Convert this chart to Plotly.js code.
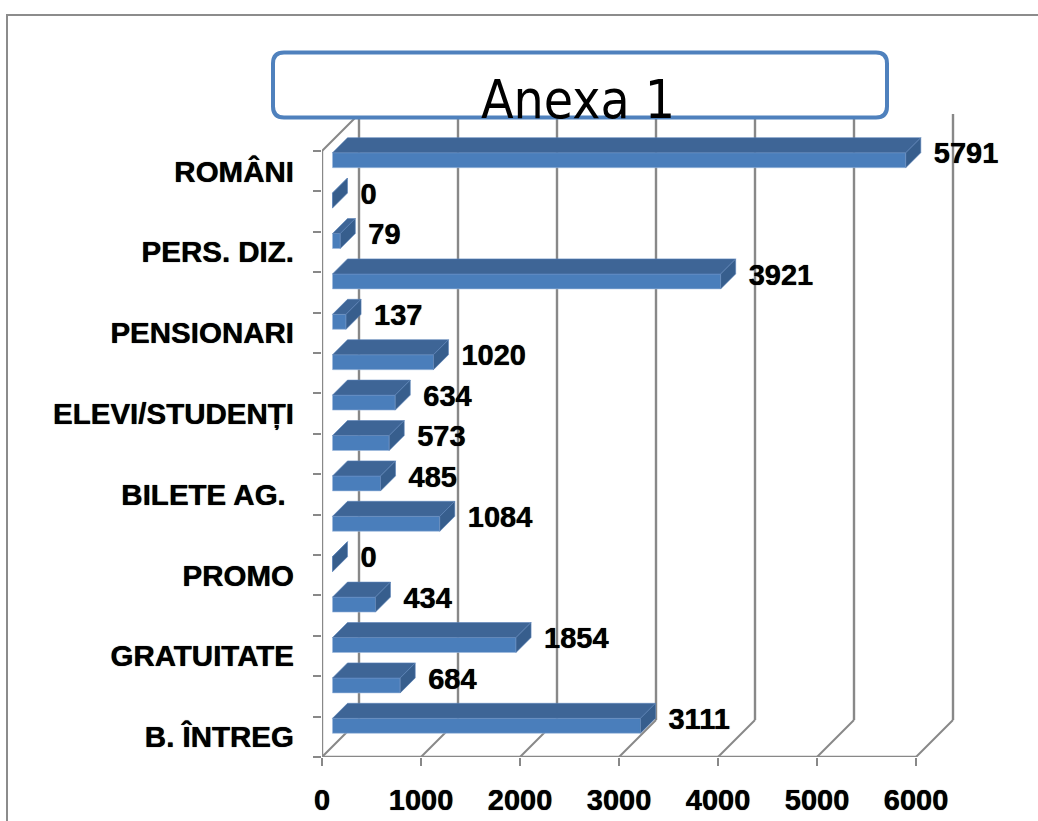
<!DOCTYPE html>
<html>
<head>
<meta charset="utf-8">
<script src="https://cdn.plot.ly/plotly-3.0.1.min.js"></script>
<style>html,body{margin:0;padding:0;background:#fff;}#chart{width:1038px;height:821px;}</style>
</head>
<body>
<div id="chart"></div>
<script>
// ---- data (bottom to top) ----
const categories = ['B. ÎNTREG', '', 'GRATUITATE', '', 'PROMO', '', 'BILETE AG.\u00a0', '', 'ELEVI/STUDENȚI', '', 'PENSIONARI', '', 'PERS. DIZ.', '', 'ROMÂNI'];
const values = [3111, 684, 1854, 434, 0, 1084, 485, 573, 634, 1020, 137, 3921, 79, 0, 5791];
const xTickValues = [0, 1000, 2000, 3000, 4000, 5000, 6000];
const chartTitle = 'Anexa 1';

// ---- geometry ----
const W = 1038, H = 821;
const mL = 322, mR = 80, mT = 112, mB = 64;
const pw = W - mL - mR, ph = H - mT - mB;
const kx = 0.099;              // px per unit
const xMax = pw / kx;
const ky = 40.4;               // px per category
const yMin = 0.5, yMax = yMin + ph / ky;
const dx = p => p / kx, dy = p => p / ky;

const pos = values.map((v, i) => i + 1);
const barShiftX = dx(10.5), barShiftY = dy(11);
const depthX = dx(15), depthY = dy(15);
const barW = dy(15);
const backX = dx(37), backY = dy(37);
const nCat = values.length;

const boldFont = size => ({family: 'Liberation Sans, Arial, sans-serif', size, color: '#000', weight: 700,
  shadow: '0 0 0.8px #000'});

// front faces
const front = {
  type: 'bar', orientation: 'h',
  y: pos.map(p => p + barShiftY), x: values,
  base: values.map(() => barShiftX), width: barW,
  marker: {color: '#4A7EBB', line: {width: 0.6, color: '#9DB9DE'}},
  hoverinfo: 'skip', showlegend: false
};
// top and side faces
const topX = [], topY = [], sideX = [], sideY = [];
values.forEach((v, i) => {
  const yt = pos[i] + barShiftY + barW / 2, yb = yt - barW;
  const x0 = barShiftX, x1 = barShiftX + v;
  topX.push(x0, x1, x1 + depthX, x0 + depthX, x0, null);
  topY.push(yt, yt, yt + depthY, yt + depthY, yt, null);
  sideX.push(x1, x1, x1 + depthX, x1 + depthX, x1, null);
  sideY.push(yb, yt, yt + depthY, yb + depthY, yb, null);
});
const topFace = {type: 'scatter', mode: 'lines', x: topX, y: topY, fill: 'toself',
  fillcolor: '#3E6596', line: {width: 0.6, color: '#5B83B8'}, hoverinfo: 'skip', showlegend: false};
const sideFace = {type: 'scatter', mode: 'lines', x: sideX, y: sideY, fill: 'toself',
  fillcolor: '#375E8D', line: {width: 0.6, color: '#5B83B8'}, hoverinfo: 'skip', showlegend: false};
const labels = {type: 'scatter', mode: 'text', xaxis: 'x', yaxis: 'y2',
  x: values.map(v => barShiftX + v + depthX + dx(13)),
  y: pos.map(p => p + barShiftY + dy(4)),
  text: values.map(v => String(v)), textposition: 'middle right',
  textfont: boldFont(29),
  hoverinfo: 'skip', showlegend: false, cliponaxis: false};

// frame lines (walls, gridlines, floor)
const gray = '#888888';
const shapes = [];
const ln = (x0, y0, x1, y1, w) => shapes.push({type: 'line', xref: 'x', yref: 'y', x0, y0, x1, y1,
  line: {color: gray, width: w || 2.4}, layer: 'below'});
const yBot = 0.5, yTop = nCat + 0.5;
xTickValues.forEach(v => {
  ln(v + backX, yBot + backY, v + backX, yTop + backY);
  ln(v, yBot, v + backX, yBot + backY, 2);
});
ln(0, yBot, 0, yTop);
ln(0, yTop, backX, yTop + backY, 2);
ln(0, yBot, xTickValues[xTickValues.length - 1], yBot);

// paper helpers
const px2x = p => (p - mL) / pw, px2y = p => (H - mB - p) / ph;
// outer frame
shapes.push({type: 'rect', xref: 'paper', yref: 'paper', x0: px2x(7), x1: px2x(1060), y0: px2y(15), y1: px2y(840),
  line: {color: '#8C8C8C', width: 2}, fillcolor: 'rgba(0,0,0,0)', layer: 'below'});
// title box (rounded)
(function () {
  const X0 = 273, X1 = 887, Y0 = 52.5, Y1 = 117.5, r = 11;
  const X = px2x, Y = px2y;
  const path = `M ${X(X0 + r)},${Y(Y0)} L ${X(X1 - r)},${Y(Y0)} Q ${X(X1)},${Y(Y0)} ${X(X1)},${Y(Y0 + r)} ` +
    `L ${X(X1)},${Y(Y1 - r)} Q ${X(X1)},${Y(Y1)} ${X(X1 - r)},${Y(Y1)} L ${X(X0 + r)},${Y(Y1)} ` +
    `Q ${X(X0)},${Y(Y1)} ${X(X0)},${Y(Y1 - r)} L ${X(X0)},${Y(Y0 + r)} Q ${X(X0)},${Y(Y0)} ${X(X0 + r)},${Y(Y0)} Z`;
  shapes.push({type: 'path', xref: 'paper', yref: 'paper', path, line: {color: '#4F81BD', width: 4},
    fillcolor: '#FFFFFF', layer: 'above'});
})();

const boundaries = [];
for (let i = 0; i <= nCat; i++) boundaries.push(i + 0.5);
const labelPos = [], labelText = [];
categories.forEach((c, i) => { if (c) { labelPos.push(pos[i]); labelText.push(c); } });

const layout = {
  width: W, height: H,
  margin: {l: mL, r: mR, t: mT, b: mB, pad: 0},
  paper_bgcolor: '#fff', plot_bgcolor: 'rgba(0,0,0,0)',
  showlegend: false, bargap: 0,
  title: {text: chartTitle, font: {family: 'Liberation Sans Narrow, Arial Narrow, DejaVu Sans Condensed, sans-serif', size: 53, color: '#000'},
    xref: 'paper', x: px2x(578), xanchor: 'center', yref: 'container', y: 1 - 99 / H, yanchor: 'middle'},
  xaxis: {range: [0, xMax], tickvals: xTickValues, ticktext: xTickValues.map(String), ticks: 'outside', ticklen: 8, tickwidth: 2,
    tickcolor: gray, showgrid: false, zeroline: false, showline: false, tickfont: boldFont(29), ticklabelstandoff: 9, fixedrange: true},
  yaxis: {range: [yMin, yMax], tickvals: boundaries, showticklabels: false, ticks: 'outside', ticklen: 8, tickwidth: 2,
    tickcolor: gray, showgrid: false, zeroline: false, showline: false, fixedrange: true},
  yaxis2: {range: [yMin, yMax], overlaying: 'y', side: 'left', tickvals: labelPos, ticktext: labelText, ticks: '',
    showgrid: false, zeroline: false, showline: false, tickfont: boldFont(29.5), ticklabelstandoff: 27, fixedrange: true},
  shapes
};

Plotly.newPlot('chart', [front, topFace, sideFace, labels], layout, {staticPlot: true, displayModeBar: false});
</script>
</body>
</html>
